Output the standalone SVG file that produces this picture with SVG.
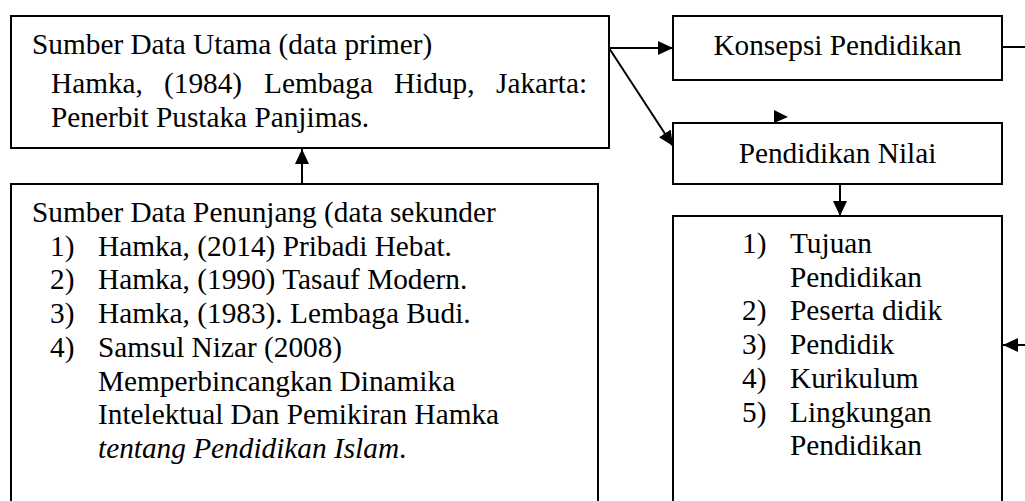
<svg xmlns="http://www.w3.org/2000/svg" width="1025" height="501" viewBox="0 0 1025 501">
<style>
.box{fill:#fff;stroke:#000;stroke-width:2}
.t{font-family:"Liberation Serif","Times New Roman",serif;font-size:29.3px;fill:#000}
.c{text-anchor:middle}
.i{font-style:italic}
.ln{stroke:#000;stroke-width:2;fill:none}
</style>
<defs>
<marker id="ah" markerWidth="8" markerHeight="8" refX="7.5" refY="4" orient="auto" markerUnits="userSpaceOnUse" viewBox="0 0 8 8">
<path d="M0,0 L8,4 L0,8 Z" fill="#000"/>
</marker>
<marker id="ah2" markerWidth="15" markerHeight="14" refX="15" refY="7" orient="auto" markerUnits="userSpaceOnUse" viewBox="0 0 15 14">
<path d="M0,0 L15,7 L0,14 Z" fill="#000"/>
</marker>
</defs>
<rect width="1025" height="501" fill="#fff"/>
<g id="connectors">
<line class="ln" x1="609" y1="48" x2="673" y2="48" marker-end="url(#ah2)"/>
<line class="ln" x1="609" y1="48" x2="673" y2="146" marker-end="url(#ah2)"/>
<line class="ln" x1="302" y1="184" x2="302" y2="149" marker-end="url(#ah2)"/>
<line class="ln" x1="840" y1="184" x2="840" y2="216" marker-end="url(#ah2)"/>
<line class="ln" x1="1002" y1="47" x2="1025" y2="47"/>
<line class="ln" x1="1025" y1="345" x2="1003" y2="345" marker-end="url(#ah2)"/>
<polygon points="774,110 788,117 774,123" fill="#000"/>
</g>
<g id="primer">
<rect class="box" x="11" y="16" width="598" height="132"/>
<text class="t" x="32" y="54">Sumber Data Utama (data primer)</text>
<text class="t" y="93"><tspan x="51">Hamka,</tspan><tspan x="164">(1984)</tspan><tspan x="264">Lembaga</tspan><tspan x="394">Hidup,</tspan><tspan x="496">Jakarta:</tspan></text>
<text class="t" x="51" y="127">Penerbit Pustaka Panjimas.</text>
</g>
<g id="sekunder">
<rect class="box" x="11" y="184" width="587" height="330"/>
<text class="t" x="32" y="222">Sumber Data Penunjang (data sekunder</text>
<text class="t" x="50" y="255.7">1)</text><text class="t" x="98" y="255.7">Hamka, (2014) Pribadi Hebat.</text>
<text class="t" x="50" y="289.4">2)</text><text class="t" x="98" y="289.4">Hamka, (1990) Tasauf Modern.</text>
<text class="t" x="50" y="323.1">3)</text><text class="t" x="98" y="323.1">Hamka, (1983). Lembaga Budi.</text>
<text class="t" x="50" y="356.8">4)</text><text class="t" x="98" y="356.8">Samsul Nizar (2008)</text>
<text class="t" x="98" y="390.5">Memperbincangkan Dinamika</text>
<text class="t" x="98" y="424.2">Intelektual Dan Pemikiran Hamka</text>
<text class="t" x="98" y="457.9"><tspan class="i">tentang Pendidikan Islam</tspan>.</text>
</g>
<g id="konsepsi">
<rect class="box" x="673" y="16" width="329" height="64"/>
<text class="t c" x="837.5" y="55">Konsepsi Pendidikan</text>
</g>
<g id="nilai">
<rect class="box" x="673" y="123" width="329" height="61"/>
<text class="t c" x="837.5" y="163">Pendidikan Nilai</text>
</g>
<g id="komponen">
<rect class="box" x="673" y="216" width="329" height="300"/>
<text class="t" x="742" y="253">1)</text><text class="t" x="790" y="253">Tujuan</text>
<text class="t" x="790" y="286.7">Pendidikan</text>
<text class="t" x="742" y="320.4">2)</text><text class="t" x="790" y="320.4">Peserta didik</text>
<text class="t" x="742" y="354.1">3)</text><text class="t" x="790" y="354.1">Pendidik</text>
<text class="t" x="742" y="387.8">4)</text><text class="t" x="790" y="387.8">Kurikulum</text>
<text class="t" x="742" y="421.5">5)</text><text class="t" x="790" y="421.5">Lingkungan</text>
<text class="t" x="790" y="455.2">Pendidikan</text>
</g>
</svg>
